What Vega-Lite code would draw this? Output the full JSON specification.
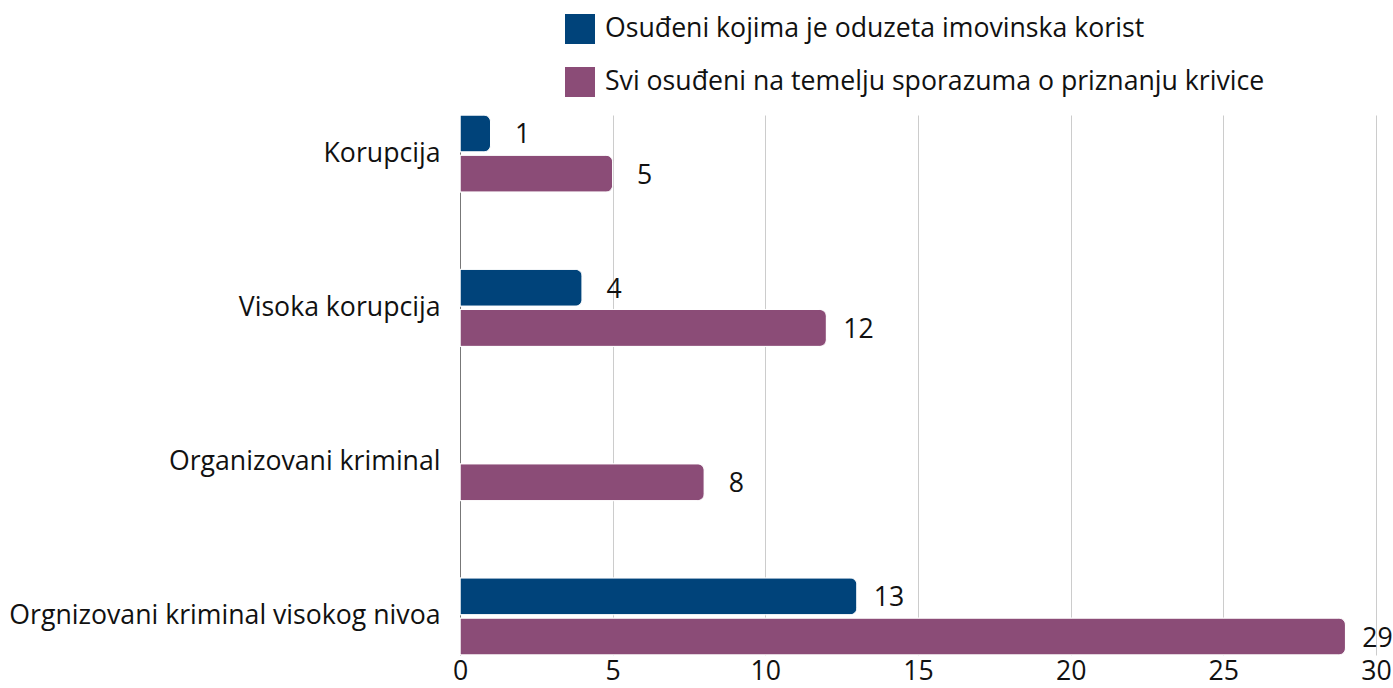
{
  "$schema": "https://vega.github.io/schema/vega-lite/v6.json",
  "width": 916,
  "height": 540,
  "autosize": {"type": "none"},
  "padding": {"left": 460, "top": 115, "right": 17, "bottom": 33},
  "background": "white",
  "config": {
    "font": "Open Sans",
    "view": {"stroke": null}
  },
  "data": {
    "values": [
      {"kategorija": "Korupcija", "serija": "Osuđeni kojima je oduzeta imovinska korist", "vrijednost": 1},
      {"kategorija": "Korupcija", "serija": "Svi osuđeni na temelju sporazuma o priznanju krivice", "vrijednost": 5},
      {"kategorija": "Visoka korupcija", "serija": "Osuđeni kojima je oduzeta imovinska korist", "vrijednost": 4},
      {"kategorija": "Visoka korupcija", "serija": "Svi osuđeni na temelju sporazuma o priznanju krivice", "vrijednost": 12},
      {"kategorija": "Organizovani kriminal", "serija": "Svi osuđeni na temelju sporazuma o priznanju krivice", "vrijednost": 8},
      {"kategorija": "Orgnizovani kriminal visokog nivoa", "serija": "Osuđeni kojima je oduzeta imovinska korist", "vrijednost": 13},
      {"kategorija": "Orgnizovani kriminal visokog nivoa", "serija": "Svi osuđeni na temelju sporazuma o priznanju krivice", "vrijednost": 29}
    ]
  },
  "encoding": {
    "y": {
      "field": "kategorija",
      "type": "nominal",
      "sort": ["Korupcija", "Visoka korupcija", "Organizovani kriminal", "Orgnizovani kriminal visokog nivoa"],
      "scale": {"paddingInner": 0.5, "paddingOuter": 0},
      "axis": {
        "title": null,
        "labelFontSize": 26.67,
        "labelColor": "#111111",
        "labelPadding": 20,
        "ticks": false,
        "domainColor": "#777777",
        "domainWidth": 1,
        "labelLimit": 600
      }
    },
    "yOffset": {
      "field": "serija",
      "type": "nominal",
      "sort": ["Osuđeni kojima je oduzeta imovinska korist", "Svi osuđeni na temelju sporazuma o priznanju krivice"],
      "scale": {
        "domain": ["Osuđeni kojima je oduzeta imovinska korist", "Svi osuđeni na temelju sporazuma o priznanju krivice"],
        "paddingInner": 0.08,
        "paddingOuter": 0
      }
    },
    "x": {
      "field": "vrijednost",
      "type": "quantitative",
      "scale": {"domain": [0, 30], "nice": false},
      "axis": {
        "title": null,
        "values": [0, 5, 10, 15, 20, 25, 30],
        "labelFontSize": 26.67,
        "labelColor": "#111111",
        "labelPadding": 3,
        "ticks": false,
        "domain": false,
        "grid": true,
        "gridColor": "#cccccc",
        "gridWidth": 1,
        "labelFlush": false
      }
    }
  },
  "layer": [
    {
      "mark": {"type": "bar", "cornerRadiusEnd": 7, "stroke": "white", "strokeWidth": 1},
      "encoding": {
        "color": {
          "field": "serija",
          "type": "nominal",
          "scale": {
            "domain": ["Osuđeni kojima je oduzeta imovinska korist", "Svi osuđeni na temelju sporazuma o priznanju krivice"],
            "range": ["#00437A", "#8B4C77"]
          },
          "legend": {
            "title": null,
            "orient": "none",
            "legendX": 105,
            "legendY": -101,
            "symbolType": "square",
            "symbolSize": 900,
            "symbolStrokeWidth": 0,
            "labelFontSize": 26.67,
            "labelColor": "#111111",
            "labelOffset": 10,
            "rowPadding": 23,
            "labelLimit": 800
          }
        }
      }
    },
    {
      "mark": {"type": "text", "align": "center", "baseline": "middle", "dx": 32, "dy": 2, "fontSize": 26.67, "color": "#111111"},
      "encoding": {
        "text": {"field": "vrijednost", "type": "quantitative"}
      }
    }
  ]
}
